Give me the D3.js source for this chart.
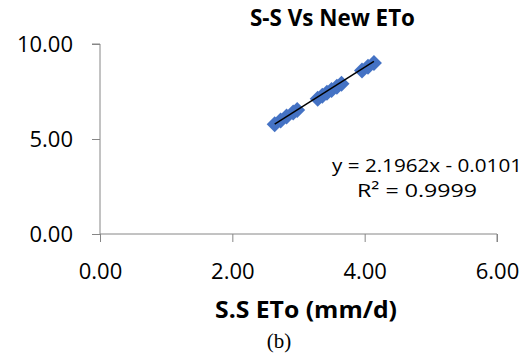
<!DOCTYPE html>
<html>
<head>
<meta charset="utf-8">
<script src="https://cdn.jsdelivr.net/npm/d3@7"></script>
<style>
  body { margin: 0; background: #fff; }
  text { font-family: "Open Sans", sans-serif; fill: #000; }
</style>
</head>
<body>
<div id="chart"></div>
<script>
// data
const ssEto = [2.64, 2.73, 2.82, 2.92, 2.98, 3.29, 3.36, 3.43, 3.50, 3.58, 3.65, 3.96, 4.05, 4.14];
const newEto = [5.78, 5.98, 6.19, 6.40, 6.53, 7.12, 7.28, 7.43, 7.58, 7.75, 7.91, 8.60, 8.80, 9.00];
const xTicks = [0, 2, 4, 6];
const yTicks = [0, 5, 10];
const slope = 2.1962, intercept = -0.0101;
const eqLabel = "y = 2.1962x - 0.0101";
const r2Label = "R² = 0.9999";

const W = 532, H = 364;
const svg = d3.select("#chart").append("svg")
    .attr("width", W)
    .attr("height", H);

// plot area
const x = d3.scaleLinear().domain([0, 6]).range([100, 497]);
const y = d3.scaleLinear().domain([0, 10]).range([234, 44]);

const axisColor = "#868686";

// y axis
const yAxis = svg.append("g")
    .attr("transform", "translate(100,0)")
    .call(d3.axisLeft(y).tickValues(yTicks).tickSize(8).tickFormat(d3.format(".2f")));
yAxis.selectAll("line, path").attr("stroke", axisColor);
yAxis.select(".domain").attr("d", `M-8,${y(10)}H0V${y(0)}`);
yAxis.selectAll("text").style("font-size", "22px").attr("x", -27).attr("dy", "0.36em");

// x axis
const xAxis = svg.append("g")
    .attr("transform", "translate(0,234)")
    .call(d3.axisBottom(x).tickValues(xTicks).tickSize(8).tickFormat(d3.format(".2f")));
xAxis.selectAll("line, path").attr("stroke", axisColor);
xAxis.select(".domain").attr("d", `M${x(0)},0H${x(6)}V8`);
xAxis.selectAll("text").style("font-size", "22px").attr("y", 45).attr("dy", 0);

// points
const pts = ssEto.map((v, i) => ({x: v, y: newEto[i]}));
svg.append("g").selectAll("path")
    .data(pts)
    .enter()
    .append("path")
    .attr("d", d3.symbol(d3.symbolSquare, 128))
    .attr("transform", d => `translate(${x(d.x)},${y(d.y)}) rotate(45)`)
    .attr("fill", "#4472C4");

// trend line between min and max x
const ext = d3.extent(ssEto);
svg.append("path")
    .datum(ext)
    .attr("fill", "none")
    .attr("stroke", "#000")
    .attr("stroke-width", 1.5)
    .attr("d", d3.line().x(d => x(d)).y(d => y(slope * d + intercept)));

// equation labels
svg.append("text").attr("x", 332).attr("y", 172)
    .attr("textLength", 190).attr("lengthAdjust", "spacingAndGlyphs")
    .style("font-size", "19px").text(eqLabel);
svg.append("text").attr("x", 357).attr("y", 197)
    .attr("textLength", 120).attr("lengthAdjust", "spacingAndGlyphs")
    .style("font-size", "19px").text(r2Label);

// title
svg.append("text").attr("x", 250).attr("y", 26)
    .attr("textLength", 165).attr("lengthAdjust", "spacingAndGlyphs")
    .style("font-size", "23px").style("font-weight", "bold").text("S-S Vs New ETo");

// x axis title
svg.append("text").attr("x", 215).attr("y", 318)
    .attr("textLength", 182).attr("lengthAdjust", "spacingAndGlyphs")
    .style("font-size", "23px").style("font-weight", "bold").text("S.S ETo (mm/d)");

// caption
svg.append("text").attr("x", 279).attr("y", 348).attr("text-anchor", "middle")
    .style("font-family", "'Liberation Serif', serif").style("font-size", "21px").text("(b)");
</script>
</body>
</html>
